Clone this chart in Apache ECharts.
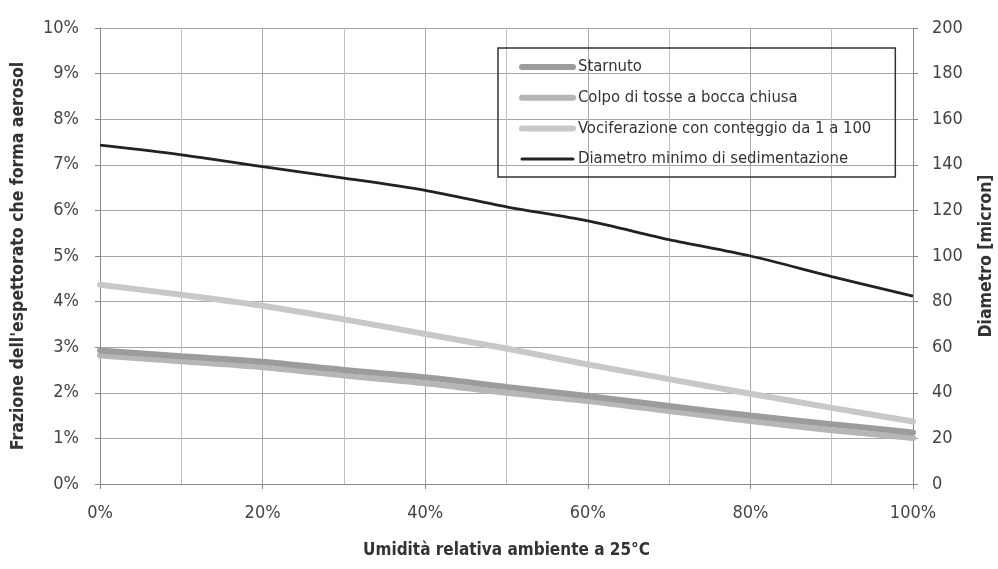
<!DOCTYPE html>
<html>
<head>
<meta charset="utf-8">
<script src="https://cdn.jsdelivr.net/npm/echarts@6/dist/echarts.min.js"></script>
<style>
html,body{margin:0;padding:0;background:#fff;}
#c{width:998px;height:569px;}
</style>
</head>
<body>
<div id="c"></div>
<script>
const humidity = [0, 10, 20, 30, 40, 50, 60, 70, 80, 90, 100];
const starnuto = [2.93, 2.80, 2.68, 2.50, 2.34, 2.13, 1.93, 1.71, 1.50, 1.31, 1.13];
const colpo = [2.82, 2.69, 2.56, 2.38, 2.21, 2.00, 1.82, 1.60, 1.38, 1.18, 1.01];
const vociferazione = [4.37, 4.15, 3.91, 3.61, 3.29, 2.97, 2.62, 2.30, 1.98, 1.67, 1.37];
const diametro = [148.6, 144.4, 139.2, 134.2, 128.8, 121.6, 115.4, 107.2, 100.0, 91.0, 82.4];
const seriesNames = ['Starnuto', 'Colpo di tosse a bocca chiusa', 'Vociferazione con conteggio da 1 a 100', 'Diametro minimo di sedimentazione'];

const FONT = "'Liberation Sans Narrow', 'Arial Narrow', 'DejaVu Sans Condensed', sans-serif";
const pairs = arr => humidity.map((h, i) => [h, arr[i]]);

const chart = echarts.init(document.getElementById('c'), null, {renderer: 'canvas'});
chart.setOption({
  animation: false,
  backgroundColor: '#fff',
  textStyle: {fontFamily: FONT, color: '#333'},
  grid: {left: 100, right: 85, top: 28, bottom: 85, containLabel: false, outerBoundsMode: 'none'},
  legend: {
    orient: 'vertical',
    left: 498, top: 48,
    data: [
      {name: seriesNames[0], lineStyle: {width: 6, cap: 'round'}},
      {name: seriesNames[1], lineStyle: {width: 6, cap: 'round'}},
      {name: seriesNames[2], lineStyle: {width: 6, cap: 'round'}},
      {name: seriesNames[3], lineStyle: {width: 3}}
    ],
    borderColor: '#333', borderWidth: 1.5,
    padding: [10, 24, 9, 21],
    itemWidth: 51, itemHeight: 14, itemGap: 12.7,
    itemStyle: {opacity: 0},
    lineStyle: {width: 6, cap: 'round'},
    textStyle: {fontFamily: FONT, fontSize: 16.5, color: '#333', lineHeight: 18}
  },
  xAxis: {
    type: 'value', min: 0, max: 100, interval: 20,
    name: 'Umidità relativa ambiente a 25°C',
    nameLocation: 'middle', nameGap: 58,
    nameTextStyle: {fontFamily: FONT, fontSize: 17, fontWeight: 'bold', color: '#333'},
    axisLine: {show: true, lineStyle: {color: '#888', width: 1}},
    axisTick: {show: true, length: 5, lineStyle: {color: '#888'}},
    minorTick: {show: false, splitNumber: 2},
    axisLabel: {formatter: '{value}%', fontSize: 18, color: '#444', margin: 20},
    splitLine: {show: true, lineStyle: {color: '#a8a8a8', width: 1}},
    minorSplitLine: {show: true, lineStyle: {color: '#c0c0c0', width: 1}}
  },
  yAxis: [{
    type: 'value', min: 0, max: 10, interval: 1,
    name: "Frazione dell'espettorato che forma aerosol",
    nameLocation: 'middle', nameGap: 73,
    nameTextStyle: {fontFamily: FONT, fontSize: 17.5, fontWeight: 'bold', color: '#333'},
    axisLine: {show: true, lineStyle: {color: '#888', width: 1}},
    axisTick: {show: true, length: 5, lineStyle: {color: '#888'}},
    axisLabel: {formatter: '{value}%', fontSize: 18, color: '#444', margin: 21},
    splitLine: {show: true, lineStyle: {color: '#a8a8a8', width: 1}}
  }, {
    type: 'value', min: 0, max: 200, interval: 20,
    name: 'Diametro [micron]',
    nameLocation: 'middle', nameGap: 64,
    nameTextStyle: {fontFamily: FONT, fontSize: 17.5, fontWeight: 'bold', color: '#333'},
    axisLine: {show: true, lineStyle: {color: '#888', width: 1}},
    axisTick: {show: true, length: 5, lineStyle: {color: '#888'}},
    axisLabel: {fontSize: 18, color: '#444', margin: 19},
    splitLine: {show: false}
  }],
  series: [
    {name: seriesNames[0], type: 'line', yAxisIndex: 0, data: pairs(starnuto), symbol: 'none', smooth: 0.3, z: 4,
     lineStyle: {color: '#9c9c9c', width: 6, cap: 'round'}, itemStyle: {color: '#9c9c9c'}},
    {name: seriesNames[1], type: 'line', yAxisIndex: 0, data: pairs(colpo), symbol: 'none', smooth: 0.3, z: 3,
     lineStyle: {color: '#b6b6b6', width: 6, cap: 'round'}, itemStyle: {color: '#b6b6b6'}},
    {name: seriesNames[2], type: 'line', yAxisIndex: 0, data: pairs(vociferazione), symbol: 'none', smooth: 0.3, z: 2,
     lineStyle: {color: '#c8c8c8', width: 6, cap: 'round'}, itemStyle: {color: '#c8c8c8'}},
    {name: seriesNames[3], type: 'line', yAxisIndex: 1, data: pairs(diametro), symbol: 'none', smooth: 0.3, z: 5,
     lineStyle: {color: '#222', width: 2.8}, itemStyle: {color: '#222'}}
  ]
});
</script>
</body>
</html>
